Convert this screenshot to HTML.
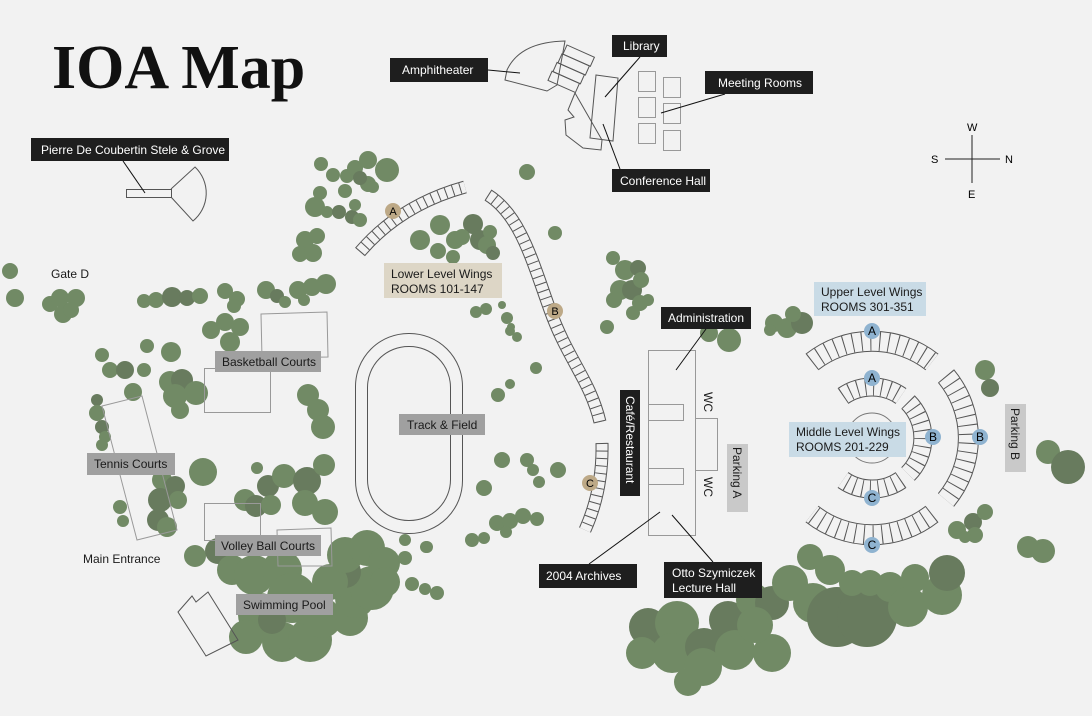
<!DOCTYPE html>
<html><head><meta charset="utf-8"><style>
html,body{margin:0;padding:0;background:#f2f2f2}
svg{display:block}
text{font-family:"Liberation Sans",sans-serif;font-size:12px}
.w{fill:#fff}.d{fill:#1e1e1e}
.t circle{fill:#718a65}
.t .k{fill:#687b5e}
.o{fill:none;stroke:#555;stroke-width:1}
.g{fill:none;stroke:#999;stroke-width:1}
</style></head><body>
<svg width="1092" height="716" viewBox="0 0 1092 716" xmlns="http://www.w3.org/2000/svg">
<rect x="0" y="0" width="1092" height="716" fill="#f2f2f2"/>
<text x="52" y="88" style="font-family:'Liberation Serif',serif;font-size:62px;font-weight:bold" fill="#111">IOA Map</text>

<!-- compass -->
<g stroke="#222" stroke-width="1"><line x1="945" y1="159" x2="1000" y2="159"/><line x1="972" y1="135" x2="972" y2="183"/></g>
<text x="967" y="131" style="font-size:11px">W</text><text x="968" y="198" style="font-size:11px">E</text><text x="931" y="163" style="font-size:11px">S</text><text x="1005" y="163" style="font-size:11px">N</text>

<!-- trees -->
<g class="t">
<circle cx="321" cy="164" r="7"/><circle cx="333" cy="175" r="7"/><circle cx="347" cy="176" r="7"/><circle cx="355" cy="168" r="8"/><circle cx="368" cy="160" r="9"/><circle cx="387" cy="170" r="12"/><circle cx="368" cy="184" r="8"/><circle class="k" cx="360" cy="178" r="7"/><circle cx="345" cy="191" r="7"/><circle cx="320" cy="193" r="7"/><circle cx="315" cy="207" r="10"/><circle cx="327" cy="212" r="6"/><circle class="k" cx="339" cy="212" r="7"/><circle class="k" cx="352" cy="217" r="7"/><circle cx="360" cy="220" r="7"/><circle cx="373" cy="187" r="6"/><circle cx="355" cy="205" r="6"/>
<circle cx="305" cy="240" r="9"/><circle cx="317" cy="236" r="8"/><circle cx="300" cy="254" r="8"/><circle cx="313" cy="253" r="9"/>
<circle cx="10" cy="271" r="8"/><circle cx="15" cy="298" r="9"/><circle cx="50" cy="304" r="8"/><circle cx="60" cy="298" r="9"/><circle cx="76" cy="298" r="9"/><circle cx="63" cy="314" r="9"/><circle cx="71" cy="310" r="8"/>
<circle cx="144" cy="301" r="7"/><circle cx="156" cy="300" r="8"/><circle class="k" cx="172" cy="297" r="10"/><circle class="k" cx="187" cy="298" r="8"/><circle cx="200" cy="296" r="8"/><circle cx="225" cy="291" r="8"/><circle cx="237" cy="299" r="8"/><circle cx="234" cy="306" r="7"/><circle cx="266" cy="290" r="9"/><circle class="k" cx="277" cy="296" r="7"/><circle cx="285" cy="302" r="6"/><circle cx="298" cy="290" r="9"/><circle cx="312" cy="287" r="9"/><circle cx="326" cy="284" r="10"/><circle cx="304" cy="300" r="6"/>
<circle cx="211" cy="330" r="9"/><circle cx="225" cy="322" r="9"/><circle cx="240" cy="327" r="9"/><circle cx="230" cy="342" r="10"/>
<circle cx="102" cy="355" r="7"/><circle cx="110" cy="370" r="8"/><circle class="k" cx="125" cy="370" r="9"/><circle cx="147" cy="346" r="7"/><circle cx="171" cy="352" r="10"/><circle cx="144" cy="370" r="7"/><circle cx="133" cy="392" r="9"/>
<circle cx="170" cy="382" r="11"/><circle class="k" cx="182" cy="380" r="11"/><circle cx="175" cy="396" r="12"/><circle cx="196" cy="393" r="12"/><circle cx="180" cy="410" r="9"/>
<circle class="k" cx="97" cy="400" r="6"/><circle cx="97" cy="413" r="8"/><circle class="k" cx="102" cy="427" r="7"/><circle cx="105" cy="437" r="6"/><circle cx="102" cy="445" r="6"/>
<circle cx="308" cy="395" r="11"/><circle cx="318" cy="410" r="11"/><circle cx="323" cy="427" r="12"/>
<circle cx="162" cy="480" r="10"/><circle class="k" cx="175" cy="486" r="10"/><circle class="k" cx="160" cy="500" r="12"/><circle cx="178" cy="500" r="9"/><circle class="k" cx="158" cy="520" r="11"/><circle cx="167" cy="527" r="10"/><circle cx="120" cy="507" r="7"/><circle cx="123" cy="521" r="6"/><circle cx="203" cy="472" r="14"/>
<circle cx="257" cy="468" r="6"/><circle class="k" cx="268" cy="486" r="11"/><circle cx="284" cy="476" r="12"/><circle class="k" cx="307" cy="481" r="14"/><circle cx="324" cy="465" r="11"/><circle cx="305" cy="503" r="13"/><circle cx="325" cy="512" r="13"/><circle cx="245" cy="500" r="11"/><circle class="k" cx="256" cy="506" r="11"/><circle cx="271" cy="505" r="10"/>
<circle cx="195" cy="556" r="11"/><circle class="k" cx="218" cy="551" r="13"/><circle cx="232" cy="570" r="15"/><circle cx="254" cy="575" r="20"/><circle cx="282" cy="570" r="20"/><circle cx="292" cy="598" r="25"/><circle cx="260" cy="615" r="22"/><circle cx="246" cy="637" r="17"/><circle cx="282" cy="642" r="20"/><circle cx="310" cy="640" r="22"/><circle cx="322" cy="618" r="20"/><circle cx="350" cy="618" r="18"/><circle cx="355" cy="598" r="20"/><circle cx="372" cy="588" r="22"/><circle class="k" cx="345" cy="572" r="16"/><circle cx="330" cy="582" r="18"/><circle cx="345" cy="555" r="18"/><circle cx="367" cy="548" r="18"/><circle cx="384" cy="563" r="16"/><circle cx="385" cy="582" r="15"/><circle class="k" cx="272" cy="620" r="14"/>
<circle cx="405" cy="558" r="7"/><circle cx="426" cy="547" r="6"/><circle cx="412" cy="584" r="7"/><circle cx="425" cy="589" r="6"/><circle cx="437" cy="593" r="7"/><circle cx="405" cy="540" r="6"/>
<circle cx="420" cy="240" r="10"/><circle cx="440" cy="225" r="10"/><circle class="k" cx="473" cy="224" r="10"/><circle cx="455" cy="240" r="9"/><circle cx="438" cy="251" r="8"/><circle class="k" cx="480" cy="240" r="10"/><circle cx="487" cy="245" r="9"/><circle class="k" cx="493" cy="253" r="7"/><circle cx="453" cy="257" r="7"/><circle cx="462" cy="237" r="8"/><circle cx="490" cy="232" r="7"/>
<circle cx="527" cy="172" r="8"/><circle cx="555" cy="233" r="7"/><circle cx="607" cy="327" r="7"/>
<circle cx="476" cy="312" r="6"/><circle cx="486" cy="309" r="6"/><circle cx="502" cy="305" r="4"/><circle cx="507" cy="318" r="6"/><circle cx="510" cy="331" r="5"/><circle cx="517" cy="337" r="5"/><circle cx="511" cy="327" r="4"/>
<circle cx="536" cy="368" r="6"/><circle cx="510" cy="384" r="5"/><circle cx="498" cy="395" r="7"/>
<circle cx="502" cy="460" r="8"/><circle cx="527" cy="460" r="7"/><circle cx="533" cy="470" r="6"/><circle cx="539" cy="482" r="6"/><circle cx="558" cy="470" r="8"/><circle cx="484" cy="488" r="8"/>
<circle cx="472" cy="540" r="7"/><circle cx="484" cy="538" r="6"/><circle cx="497" cy="523" r="8"/><circle cx="510" cy="521" r="8"/><circle cx="523" cy="516" r="8"/><circle cx="537" cy="519" r="7"/><circle cx="506" cy="532" r="6"/><circle cx="427" cy="547" r="6"/>
<circle cx="613" cy="258" r="7"/><circle cx="625" cy="270" r="10"/><circle class="k" cx="638" cy="268" r="8"/><circle cx="620" cy="290" r="10"/><circle class="k" cx="632" cy="290" r="10"/><circle cx="641" cy="280" r="8"/><circle cx="614" cy="300" r="8"/><circle cx="640" cy="303" r="8"/><circle cx="633" cy="313" r="7"/><circle cx="648" cy="300" r="6"/>
<circle cx="729" cy="340" r="12"/><circle cx="709" cy="333" r="9"/><circle cx="774" cy="323" r="9"/><circle cx="787" cy="328" r="10"/><circle class="k" cx="802" cy="323" r="11"/><circle cx="770" cy="330" r="6"/><circle cx="793" cy="314" r="8"/>
<circle cx="985" cy="370" r="10"/><circle class="k" cx="990" cy="388" r="9"/><circle cx="1048" cy="452" r="12"/><circle class="k" cx="1068" cy="467" r="17"/><circle cx="1028" cy="547" r="11"/><circle cx="1043" cy="551" r="12"/>
<circle cx="957" cy="530" r="9"/><circle class="k" cx="973" cy="522" r="9"/><circle cx="985" cy="512" r="8"/><circle cx="975" cy="535" r="8"/><circle cx="965" cy="537" r="6"/>
<circle class="k" cx="648" cy="627" r="19"/><circle cx="642" cy="653" r="16"/><circle cx="677" cy="623" r="22"/><circle cx="672" cy="653" r="20"/><circle class="k" cx="704" cy="647" r="19"/><circle cx="688" cy="682" r="14"/><circle cx="703" cy="667" r="19"/><circle class="k" cx="728" cy="620" r="19"/><circle cx="735" cy="650" r="20"/><circle cx="772" cy="653" r="19"/><circle cx="753" cy="600" r="17"/><circle class="k" cx="772" cy="603" r="17"/><circle cx="790" cy="583" r="18"/><circle cx="810" cy="557" r="13"/><circle cx="830" cy="570" r="15"/><circle cx="813" cy="603" r="20"/><circle cx="755" cy="625" r="18"/><circle class="k" cx="837" cy="617" r="30"/><circle class="k" cx="867" cy="617" r="30"/><circle cx="852" cy="583" r="13"/><circle cx="870" cy="583" r="13"/><circle cx="890" cy="587" r="15"/><circle cx="908" cy="607" r="20"/><circle cx="915" cy="578" r="14"/><circle cx="942" cy="595" r="20"/><circle class="k" cx="947" cy="573" r="18"/>
</g>

<!-- wings -->
<g fill="none">
<path d="M360,252 Q400,205 465,187" stroke="#555" stroke-width="13"/>
<path d="M360,252 Q400,205 465,187" stroke="#f2f2f2" stroke-width="11"/>
<path d="M360,252 Q400,205 465,187" stroke="#555" stroke-width="11" stroke-dasharray="1 6.5"/>
<path d="M488,195 C520,215 532,260 550,310 S590,380 600,422" stroke="#555" stroke-width="13"/>
<path d="M488,195 C520,215 532,260 550,310 S590,380 600,422" stroke="#f2f2f2" stroke-width="11"/>
<path d="M488,195 C520,215 532,260 550,310 S590,380 600,422" stroke="#555" stroke-width="11" stroke-dasharray="1 6.5"/>
<path d="M602,443 Q603,490 585,530" stroke="#555" stroke-width="13"/>
<path d="M602,443 Q603,490 585,530" stroke="#f2f2f2" stroke-width="11"/>
<path d="M602,443 Q603,490 585,530" stroke="#555" stroke-width="11" stroke-dasharray="1 6.5"/>
<path d="M812,362 A97,97 0 0 1 932,362 M946,376 A97,97 0 0 1 946,500 M932,514 A97,97 0 0 1 812,514" stroke="#555" stroke-width="21"/>
<path d="M812,362 A97,97 0 0 1 932,362 M946,376 A97,97 0 0 1 946,500 M932,514 A97,97 0 0 1 812,514" stroke="#f2f2f2" stroke-width="19"/>
<path d="M812,362 A97,97 0 0 1 932,362 M946,376 A97,97 0 0 1 946,500 M932,514 A97,97 0 0 1 812,514" stroke="#555" stroke-width="19" stroke-dasharray="1 8"/>
<path d="M843,396 A51,51 0 0 1 901,396 M908,402 A51,51 0 0 1 908,474 M901,480 A51,51 0 0 1 843,480" stroke="#555" stroke-width="19"/>
<path d="M843,396 A51,51 0 0 1 901,396 M908,402 A51,51 0 0 1 908,474 M901,480 A51,51 0 0 1 843,480" stroke="#f2f2f2" stroke-width="17"/>
<path d="M843,396 A51,51 0 0 1 901,396 M908,402 A51,51 0 0 1 908,474 M901,480 A51,51 0 0 1 843,480" stroke="#555" stroke-width="17" stroke-dasharray="1 7"/>
<circle cx="872" cy="438" r="25" stroke="#777"/>
</g>

<!-- track -->
<rect x="355.5" y="333.5" width="107" height="200" rx="53" class="o"/>
<rect x="367.5" y="346.5" width="83" height="174" rx="41" class="o"/>

<!-- buildings -->
<path d="M505,80 L507,70 Q520,42 565,41 L557,85 L547,91 Z" class="o"/>
<g transform="translate(567,45) rotate(24)" class="o"><rect x="0" y="0" width="30" height="10"/><rect x="-1" y="10" width="30" height="10"/><rect x="-2" y="20" width="30" height="10"/><rect x="-3" y="30" width="30" height="10"/></g>
<polygon points="575,93 568,110 574,117 565,120 566,135 583,148 601,150 602,140" class="o"/>
<polygon points="596,75 618,78 613,141 590,138" class="o"/>
<g class="g"><rect x="638.5" y="71.5" width="17" height="20"/><rect x="638.5" y="97.5" width="17" height="20"/><rect x="638.5" y="123.5" width="17" height="20"/><rect x="663.5" y="77.5" width="17" height="20"/><rect x="663.5" y="103.5" width="17" height="20"/><rect x="663.5" y="130.5" width="17" height="20"/></g>
<rect x="126.5" y="189.5" width="45" height="8" class="o"/>
<path d="M171,189 L195,167 A36,36 0 0 1 193,221 L171,197" class="o"/>
<g class="g">
<polygon points="261,314 327,312 328,357 262,358"/>
<rect x="204.5" y="368.5" width="66" height="44"/>
<polygon points="102,406 142,396 177,530 137,540"/>
<rect x="204.5" y="503.5" width="56" height="37"/>
<polygon points="277,530 331,528 332,566 278,566"/>
<rect x="648.5" y="350.5" width="47" height="185"/>
<rect x="648.5" y="404.5" width="35" height="16"/><rect x="648.5" y="468.5" width="35" height="16"/>
<rect x="695.5" y="418.5" width="22" height="52"/>
</g>
<polygon points="178,612 192,596 196,602 208,592 238,640 206,656" class="o"/>

<!-- leader lines -->
<g stroke="#111" stroke-width="1">
<line x1="488" y1="70" x2="520" y2="73"/><line x1="640" y1="57" x2="605" y2="97"/><line x1="725" y1="94" x2="661" y2="113"/><line x1="620" y1="169" x2="603" y2="124"/><line x1="123" y1="161" x2="145" y2="193"/><line x1="706" y1="329" x2="676" y2="370"/><line x1="589" y1="564" x2="660" y2="512"/><line x1="713" y1="562" x2="672" y2="515"/>
</g>

<!-- markers -->
<g text-anchor="middle">
<g fill="#bda987"><circle cx="393" cy="211" r="8"/><circle cx="555" cy="311" r="8"/><circle cx="590" cy="483" r="8"/></g>
<text x="393" y="215" style="font-size:11px">A</text><text x="555" y="315" style="font-size:11px">B</text><text x="590" y="487" style="font-size:11px">C</text>
<g fill="#8fb3d0"><circle cx="872" cy="331" r="8"/><circle cx="872" cy="378" r="8"/><circle cx="933" cy="437" r="8"/><circle cx="980" cy="437" r="8"/><circle cx="872" cy="498" r="8"/><circle cx="872" cy="545" r="8"/></g>
<g style="font-size:11px"><text x="872" y="335">A</text><text x="872" y="382">A</text><text x="933" y="441">B</text><text x="980" y="441">B</text><text x="872" y="502">C</text><text x="872" y="549">C</text></g>
</g>

<!-- labels -->
<g class="d">
<rect x="390" y="58" width="98" height="24"/><rect x="612" y="35" width="55" height="22"/><rect x="705" y="71" width="108" height="23"/><rect x="612" y="169" width="98" height="23"/><rect x="31" y="138" width="198" height="23"/><rect x="661" y="307" width="90" height="22"/><rect x="620" y="390" width="20" height="106"/><rect x="539" y="564" width="98" height="24"/><rect x="664" y="562" width="98" height="36"/>
</g>
<g class="w">
<text x="402" y="74">Amphitheater</text><text x="623" y="50">Library</text><text x="718" y="87">Meeting Rooms</text><text x="620" y="185">Conference Hall</text><text x="41" y="154">Pierre De Coubertin Stele &amp; Grove</text><text x="668" y="322">Administration</text><text x="546" y="580">2004 Archives</text><text x="672" y="577">Otto Szymiczek</text><text x="672" y="592">Lecture Hall</text>
<text transform="translate(626,396) rotate(90)">Café/Restaurant</text>
</g>
<rect x="384" y="263" width="118" height="35" fill="#ddd6c6"/>
<rect x="814" y="282" width="112" height="34" fill="#c9dbe6"/>
<rect x="789" y="422" width="117" height="35" fill="#c9dbe6"/>
<g fill="#a0a0a0"><rect x="215" y="351" width="106" height="21"/><rect x="87" y="453" width="88" height="22"/><rect x="399" y="414" width="86" height="21"/><rect x="215" y="535" width="106" height="21"/><rect x="236" y="594" width="97" height="21"/></g>
<g fill="#c9c9c9"><rect x="727" y="444" width="21" height="68"/><rect x="1005" y="404" width="21" height="68"/></g>
<g fill="#1a1a1a">
<text x="391" y="278">Lower Level Wings</text><text x="391" y="293">ROOMS 101-147</text>
<text x="821" y="296">Upper Level Wings</text><text x="821" y="311">ROOMS 301-351</text>
<text x="796" y="436">Middle Level Wings</text><text x="796" y="451">ROOMS 201-229</text>
<text x="222" y="366">Basketball Courts</text><text x="94" y="468">Tennis Courts</text><text x="407" y="429">Track &amp; Field</text><text x="221" y="550">Volley Ball Courts</text><text x="243" y="609">Swimming Pool</text>
<text x="51" y="278">Gate D</text><text x="83" y="563">Main Entrance</text>
<text transform="translate(733,447) rotate(90)">Parking A</text>
<text transform="translate(1011,408) rotate(90)">Parking B</text>
<text transform="translate(704,392) rotate(90)">WC</text>
<text transform="translate(704,477) rotate(90)">WC</text>
</g>
</svg>
</body></html>
